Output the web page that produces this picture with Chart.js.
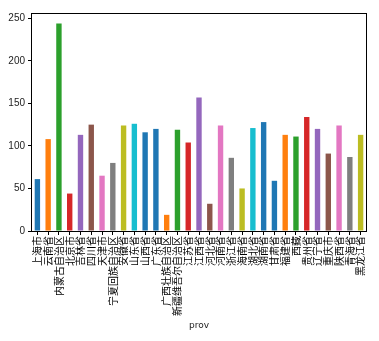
<!DOCTYPE html>
<html>
<head>
<meta charset="utf-8">
<script src="https://cdn.jsdelivr.net/npm/chart.js@4/dist/chart.umd.min.js"></script>
<style>
  html, body { margin: 0; padding: 0; background: #fff; }
  #wrap { width: 379px; height: 341px; }
</style>
</head>
<body>
<div id="wrap"><canvas id="prov-chart" width="379" height="341"></canvas></div>
<script>
// Count per province
const provinces = [
    '上海市', '云南省', '内蒙古自治区', '北京市', '吉林省', '四川省', '天津市',
    '宁夏回族自治区', '安徽省', '山东省', '山西省', '广东省', '广西壮族自治区',
    '新疆维吾尔自治区', '江苏省', '江西省', '河北省', '河南省', '浙江省', '海南省',
    '湖北省', '湖南省', '甘肃省', '福建省', '西藏', '贵州省', '辽宁省', '重庆市',
    '陕西省', '青海省', '黑龙江省'
];
const counts = [
    61, 108, 244, 44, 113, 125, 65, 80, 124, 126, 116, 120, 19, 119, 104, 157,
    32, 124, 86, 50, 121, 128, 59, 113, 111, 134, 120, 91, 124, 87, 113
];
const yTicks = [0, 50, 100, 150, 200, 250];

// colour cycle (tab10 followed by an extra blue, 11 entries)
const palette = ['#1f77b4', '#ff7f0e', '#2ca02c', '#d62728', '#9467bd',
                 '#8c564b', '#e377c2', '#7f7f7f', '#bcbd22', '#17becf', '#1f77b4'];
const barColors = counts.map((v, i) => palette[i % palette.length]);

// Box around the plot area
const frame = {
    id: 'frame',
    afterDraw(chart) {
        const a = chart.chartArea;
        const ctx = chart.ctx;
        ctx.save();
        ctx.strokeStyle = '#000';
        ctx.lineWidth = 1;
        ctx.strokeRect(Math.round(a.left) - 0.5, Math.round(a.top) + 0.5,
                       Math.round(a.right - a.left) + 1, Math.round(a.bottom - a.top));
        ctx.restore();
    }
};

const ctx = document.getElementById('prov-chart').getContext('2d');
new Chart(ctx, {
    type: 'bar',
    data: {
        labels: provinces,
        datasets: [{
            data: counts,
            backgroundColor: barColors,
            borderWidth: 0,
            barPercentage: 0.5,
            categoryPercentage: 1.0
        }]
    },
    options: {
        responsive: false,
        animation: false,
        layout: { padding: { top: 13, right: 13, left: 0, bottom: 0 } },
        plugins: {
            legend: { display: false },
            tooltip: { enabled: false }
        },
        scales: {
            x: {
                grid: { drawOnChartArea: false, drawTicks: true, tickLength: 4, color: '#000', offset: false },
                border: { display: false },
                ticks: {
                    autoSkip: false,
                    minRotation: 90,
                    maxRotation: 90,
                    padding: 1,
                    color: '#000',
                    font: { family: 'Noto Sans CJK SC', size: 10 }
                },
                title: {
                    display: true,
                    text: 'prov',
                    color: '#222',
                    padding: { top: 4, bottom: 10 },
                    font: { family: 'DejaVu Sans', size: 9 }
                },
                afterFit(scale) { scale.height = 110; }
            },
            y: {
                min: 0,
                max: Math.max(...counts) * 1.05,
                grid: { drawOnChartArea: false, drawTicks: true, tickLength: 4, color: '#000' },
                border: { display: false },
                afterBuildTicks(scale) { scale.ticks = yTicks.map(v => ({ value: v })); },
                ticks: {
                    padding: 3,
                    color: '#222',
                    font: { family: 'Liberation Sans', size: 10 }
                },
                afterFit(scale) { scale.width = 32; }
            }
        }
    },
    plugins: [frame]
});
</script>
</body>
</html>
